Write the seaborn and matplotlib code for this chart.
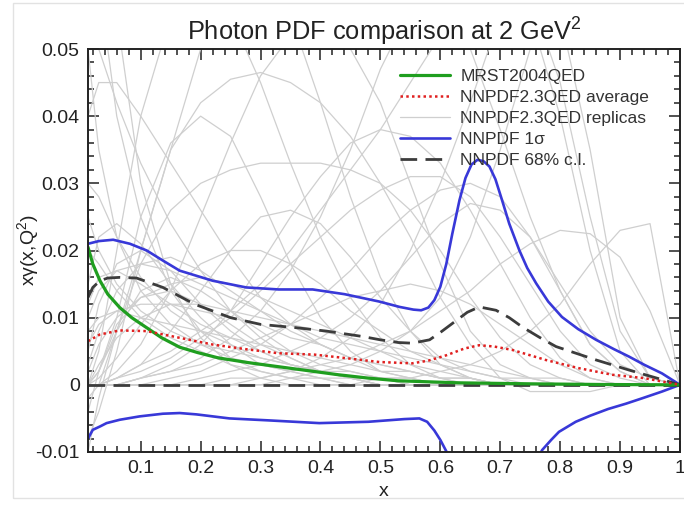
import numpy as np
import pandas as pd
import seaborn as sns
import matplotlib
matplotlib.use("Agg")
import matplotlib.pyplot as plt
from matplotlib.lines import Line2D
from matplotlib.patches import Rectangle
from matplotlib.ticker import MultipleLocator, FixedLocator

# ---------------- data (values in units of 1e-3) ----------------
mrst_x = [0.012, 0.02, 0.032, 0.045, 0.065, 0.085, 0.11, 0.135, 0.165, 0.195, 0.23,
          0.28, 0.33, 0.38, 0.43, 0.48, 0.53, 0.63, 0.75, 0.87, 1.0]
mrst_y = [20.5, 18.0, 15.5, 13.5, 11.5, 10.0, 8.5, 7.0, 5.6, 4.8, 4.0,
          3.3, 2.7, 2.1, 1.5, 1.0, 0.6, 0.3, 0.15, 0.05, 0.0]

avg_x = [0.012, 0.032, 0.065, 0.11, 0.165, 0.22, 0.276, 0.33, 0.39, 0.44, 0.498,
         0.553, 0.58, 0.61, 0.64, 0.665, 0.69, 0.72, 0.776, 0.83, 0.887, 0.94, 1.0]
avg_y = [6.5, 7.5, 8.1, 8.0, 7.0, 6.0, 5.3, 4.7, 4.5, 4.0, 3.4,
         3.2, 3.6, 4.4, 5.4, 5.9, 5.7, 5.2, 3.7, 2.5, 1.5, 1.0, 0.0]

sig_up_x = [0.012, 0.03, 0.054, 0.082, 0.11, 0.137, 0.165, 0.22, 0.276, 0.33, 0.387,
            0.44, 0.498, 0.532, 0.555, 0.568, 0.58, 0.59, 0.60, 0.61, 0.62, 0.632,
            0.642, 0.652, 0.662, 0.672, 0.682, 0.692, 0.703, 0.715, 0.732, 0.745,
            0.76, 0.78, 0.803, 0.83, 0.86, 0.89, 0.915, 0.94, 0.97, 1.0]
sig_up_y = [21.0, 21.4, 21.6, 21.0, 20.0, 18.5, 17.0, 15.5, 14.5, 14.2, 14.2,
            13.5, 12.4, 11.6, 11.2, 11.1, 11.5, 12.6, 14.6, 18.0, 22.5, 27.5,
            30.8, 32.8, 33.5, 33.3, 32.5, 30.6, 27.5, 24.0, 20.0, 17.4,
            15.1, 12.4, 10.1, 8.3, 6.7, 5.3, 4.2, 3.0, 1.7, 0.0]

sig_lo_x = [0.012, 0.02, 0.032, 0.043, 0.065, 0.098, 0.137, 0.165, 0.193, 0.248, 0.315,
            0.398, 0.48, 0.54, 0.565, 0.578, 0.59, 0.6, 0.61, 0.63, 0.65, 0.7, 0.75,
            0.77, 0.785, 0.798, 0.826, 0.85, 0.88, 0.91, 0.937, 0.97, 1.0]
sig_lo_y = [-8.0, -6.7, -6.2, -5.7, -5.2, -4.7, -4.3, -4.2, -4.4, -5.0, -5.3,
            -5.7, -5.5, -5.1, -5.0, -5.5, -6.8, -8.2, -9.9, -14.0, -20.0, -25.0, -13.0,
            -9.7, -8.2, -7.0, -5.5, -4.6, -3.6, -2.8, -2.0, -1.0, 0.0]

cl_up_x = [0.012, 0.02, 0.032, 0.045, 0.065, 0.093, 0.137, 0.19, 0.25, 0.3, 0.36,
           0.41, 0.47, 0.5, 0.53, 0.553, 0.582, 0.6, 0.627, 0.645, 0.665, 0.693,
           0.715, 0.737, 0.765, 0.793, 0.86, 0.915, 1.0]
cl_up_y = [13.0, 14.5, 15.5, 15.9, 16.0, 15.9, 14.5, 12.0, 10.0, 9.0, 8.5,
           8.0, 7.2, 6.7, 6.3, 6.2, 6.7, 7.8, 9.6, 10.8, 11.6, 11.1,
           10.0, 8.6, 7.1, 5.7, 3.7, 2.2, 0.0]

cl_lo_x = [0.012, 1.0]
cl_lo_y = [0.0, 0.0]

# replicas, sampled on a common x grid
rep_x = [0.012, 0.03, 0.06, 0.1, 0.15, 0.2, 0.25, 0.3, 0.35, 0.4, 0.45,
         0.5, 0.55, 0.6, 0.65, 0.7, 0.75, 0.8, 0.85, 0.9, 0.95, 1.0]
replicas = [
    [-8, -4, 5, 20, 35, 42, 45.5, 46.5, 45, 42, 37, 30, 22, 13, 6, 1, -1, -1, -1, 0, 0, 0],
    [0, 2, 10, 25, 36, 40, 37, 28, 18, 10, 5, 2, 1, 0, 0, 0, 0, 0, 0, 0, 0, 0],
    [-2, 0, 8, 18, 26, 30, 32, 33, 33, 33, 32, 30, 26, 20, 13, 7, 3, 1, 0, 0, 0, 0],
    [0, 0, 1, 3, 5, 8, 11, 15, 20, 26, 32, 38, 45, 52, 58, 60, 55, 40, 20, 5, 0, 0],
    [0, 0, 0, 1, 3, 6, 11, 18, 25, 31, 36, 38, 37, 33, 26, 18, 10, 4, 1, 0, 0, 0],
    [0, 0, 1, 3, 8, 14, 20, 25, 26, 24, 19, 13, 8, 4, 2, 1, 0, 0, 0, 0, 0, 0],
    [0, 0, 0, 0, 0, 0, 1, 1, 2, 3, 4, 6, 8, 11, 14, 18, 21, 23, 22.5, 19, 11, 0],
    [0, 0, 0, 0, 0, 0, 0, 0, 0, 0, 0, 1, 1, 2, 3, 5, 8, 12, 18, 23, 24, 0],
    [80, 60, 40, 25, 14, 8, 4, 2, 1, 0, 0, 0, 0, 0, 0, 0, 0, 0, 0, 0, 0, 0],
    [120, 90, 55, 30, 15, 7, 3, 1, 0, 0, 0, 0, 0, 0, 0, 0, 0, 0, 0, 0, 0, 0],
    [60, 50, 42, 33, 24, 17, 11, 7, 4, 2, 1, 0, 0, 0, 0, 0, 0, 0, 0, 0, 0, 0],
    [0, 0, 0, 0, 0, 0, 0, 1, 2, 4, 7, 12, 20, 30, 42, 55, 58, 45, 25, 8, 1, 0],
    [0, 0, 0, 1, 2, 4, 7, 11, 17, 25, 35, 47, 56, 58, 50, 38, 25, 14, 6, 2, 0, 0],
    [5, 12, 18, 20, 17, 12, 8, 5, 3, 2, 1, 0, 0, 0, 0, 0, 0, 0, 0, 0, 0, 0],
    [15, 22, 24, 21, 15, 10, 6, 3, 2, 1, 0, 0, 0, 0, 0, 0, 0, 0, 0, 0, 0, 0],
    [-10, -2, 8, 14, 16, 14, 11, 8, 5, 3, 2, 1, 0, 0, 0, 0, 0, 0, 0, 0, 0, 0],
    [20, 18, 14, 10, 7, 5, 3, 2, 1, 1, 0, 0, 0, 0, 0, 0, 0, 0, 0, 0, 0, 0],
    [30, 28, 22, 16, 11, 8, 6, 4, 3, 2, 1, 1, 0, 0, 0, 0, 0, 0, 0, 0, 0, 0],
    [2, 6, 10, 13, 15, 16, 15, 13, 11, 9, 7, 5, 3, 2, 1, 0, 0, 0, 0, 0, 0, 0],
    [0, 0, 0, 0, 0, 1, 2, 3, 5, 7, 10, 14, 19, 24, 27, 26, 22, 15, 8, 3, 1, 0],
    [0, 1, 4, 9, 14, 18, 20, 20, 18, 15, 11, 8, 5, 3, 1, 0, 0, 0, 0, 0, 0, 0],
    [0, 5, 20, 40, 55, 60, 55, 45, 33, 22, 13, 7, 3, 1, 0, 0, 0, 0, 0, 0, 0, 0],
    [0, 2, 8, 20, 35, 50, 60, 62, 55, 42, 28, 16, 8, 3, 1, 0, 0, 0, 0, 0, 0, 0],
    [40, 45, 45, 40, 33, 26, 19, 13, 9, 6, 4, 2, 1, 0, 0, 0, 0, 0, 0, 0, 0, 0],
    [10, 14, 17, 18, 17, 15, 13, 11, 9, 7, 6, 5, 4, 3, 2, 1, 1, 0, 0, 0, 0, 0],
    [0, 0, 0, 1, 2, 3, 5, 7, 9, 11, 13, 14, 15, 14, 12, 9, 6, 3, 1, 0, 0, 0],
    [8, 10, 11, 10, 9, 8, 7, 6, 5, 4, 3, 2, 2, 1, 1, 0, 0, 0, 0, 0, 0, 0],
    [0, 0, 2, 6, 14, 25, 36, 46, 52, 54, 50, 42, 30, 18, 8, 3, 1, 0, 0, 0, 0, 0],
    [0, 0, 0, 0, 1, 2, 4, 6, 9, 13, 17, 22, 26, 29, 30, 28, 22, 14, 6, 2, 0, 0],
    [3, 8, 14, 18, 19, 17, 14, 11, 8, 6, 4, 3, 2, 1, 1, 0, 0, 0, 0, 0, 0, 0],
    [12, 16, 17, 15, 12, 9, 7, 5, 3, 2, 1, 1, 0, 0, 0, 0, 0, 0, 0, 0, 0, 0],
    [-4, 2, 9, 13, 14, 12, 9, 6, 4, 2, 1, 0, 0, 0, 0, 0, 0, 0, 0, 0, 0, 0],
    [25, 20, 15, 11, 8, 6, 5, 4, 3, 2, 2, 1, 1, 0, 0, 0, 0, 0, 0, 0, 0, 0],
    [0, 3, 7, 10, 12, 12, 11, 10, 9, 8, 7, 6, 5, 4, 3, 2, 1, 1, 0, 0, 0, 0],
    [6, 9, 11, 12, 12, 11, 10, 9, 7, 6, 4, 3, 2, 1, 0, 0, 0, 0, 0, 0, 0, 0],
    [50, 35, 22, 14, 9, 6, 4, 3, 2, 1, 1, 0, 0, 0, 0, 0, 0, 0, 0, 0, 0, 0],
    [0, 0, 1, 2, 4, 7, 10, 14, 18, 22, 26, 29, 31, 31, 28, 22, 15, 8, 3, 1, 0, 0],
    [0, 0, 0, 0, 0, 0, 0, 0, 1, 2, 3, 5, 8, 13, 22, 35, 50, 55, 35, 10, 1, 0],
]

title = "Photon PDF comparison at 2 GeV$^2$"
x_ticks = [0.1, 0.2, 0.3, 0.4, 0.5, 0.6, 0.7, 0.8, 0.9, 1.0]
x_ticklabels = ["0.1", "0.2", "0.3", "0.4", "0.5", "0.6", "0.7", "0.8", "0.9", "1"]
y_ticks = [-0.01, 0.0, 0.01, 0.02, 0.03, 0.04, 0.05]
y_ticklabels = ["-0.01", "0", "0.01", "0.02", "0.03", "0.04", "0.05"]
labels = ["MRST2004QED", "NNPDF2.3QED average", "NNPDF2.3QED replicas",
          "NNPDF 1\u03c3", "NNPDF 68% c.l."]

# ---------------- style ----------------
sns.set_theme(style="ticks")
plt.rcParams["font.family"] = ["Liberation Sans", "DejaVu Sans"]
plt.rcParams["mathtext.fontset"] = "custom"
plt.rcParams["mathtext.rm"] = "Liberation Sans"

C_GREEN = "#1f9e1f"
C_RED = "#e02020"
C_GRAY = "#cfcfcf"
C_BLUE = "#3838d8"
C_DASH = "#3c3c3c"
C_TEXT = "#222222"

fig = plt.figure(figsize=(6.84, 5.05), dpi=100)
ax = fig.add_axes([88 / 684, 1 - 452 / 505, (680 - 88) / 684, (452 - 49) / 505])

# replicas
rep_df = pd.DataFrame({
    "x": np.tile(rep_x, len(replicas)),
    "y": np.concatenate([np.array(r) * 1e-3 for r in replicas]),
    "rep": np.repeat(np.arange(len(replicas)), len(rep_x)),
})
sns.lineplot(data=rep_df, x="x", y="y", units="rep", estimator=None,
             color=C_GRAY, lw=0.9, ax=ax, legend=False)

def draw(xs, ys, **kw):
    df = pd.DataFrame({"x": xs, "y": np.array(ys) * 1e-3})
    sns.lineplot(data=df, x="x", y="y", ax=ax, legend=False, estimator=None, **kw)

draw(sig_up_x, sig_up_y, color=C_BLUE, lw=1.9)
draw(sig_lo_x, sig_lo_y, color=C_BLUE, lw=1.9)
draw(cl_up_x, cl_up_y, color=C_DASH, lw=2.0, linestyle=(0, (6, 3)))
draw(cl_lo_x, cl_lo_y, color=C_DASH, lw=2.0, linestyle=(0, (6, 3)))
draw(mrst_x, mrst_y, color=C_GREEN, lw=2.3)
draw(avg_x, avg_y, color=C_RED, lw=1.8, linestyle=(0, (1, 1.3)))

ax.set_xlim(0.012, 1.0)
ax.set_ylim(-0.01, 0.05)
ax.xaxis.set_major_locator(FixedLocator(x_ticks))
ax.set_xticklabels(x_ticklabels)
ax.yaxis.set_major_locator(FixedLocator(y_ticks))
ax.set_yticklabels(y_ticklabels)
ax.xaxis.set_minor_locator(MultipleLocator(0.02))
ax.yaxis.set_minor_locator(MultipleLocator(0.002))
ax.tick_params(which="both", direction="in", top=True, right=True,
               color=C_TEXT, width=1.1, labelsize=14, labelcolor=C_TEXT)
ax.tick_params(which="major", length=8, pad=6)
ax.tick_params(which="minor", length=4)
for s in ax.spines.values():
    s.set_linewidth(1.4)
    s.set_color(C_TEXT)

ax.set_xlabel("x", fontsize=14, labelpad=4, color=C_TEXT)
ax.set_ylabel("x\u03b3(x,Q$^2$)", fontsize=14, labelpad=-5, color=C_TEXT)
ax.set_title(title, fontsize=18.3, pad=6, color=C_TEXT)

handles = [
    Line2D([], [], color=C_GREEN, lw=2.3),
    Line2D([], [], color=C_RED, lw=1.8, linestyle=(0, (1, 1.3))),
    Line2D([], [], color=C_GRAY, lw=0.9),
    Line2D([], [], color=C_BLUE, lw=1.9),
    Line2D([], [], color=C_DASH, lw=2.0, linestyle=(0, (6, 3))),
]
leg = ax.legend(handles, labels, loc="upper left", bbox_to_anchor=(0.527, 0.95),
                frameon=False, fontsize=12.5, handlelength=2.9, handletextpad=0.57,
                labelspacing=0.33, borderpad=0.0, borderaxespad=0.0)
for t in leg.get_texts():
    t.set_color("#333333")

# light outer frame of the original picture
fig.patches.append(Rectangle((13 / 684, 1 - 498 / 505), 1.0, 495 / 505,
                             transform=fig.transFigure, fill=False,
                             edgecolor="#e2e2e2", lw=1.0))

fig.savefig("out.png", dpi=100)
